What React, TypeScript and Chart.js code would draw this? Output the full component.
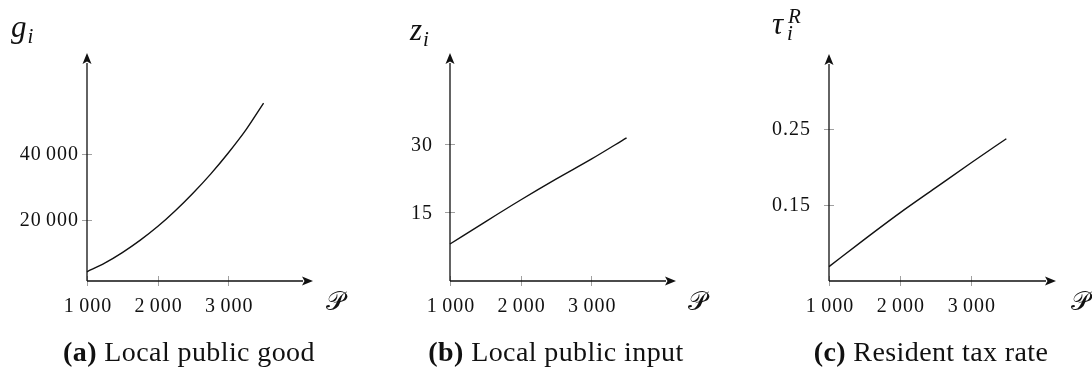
import React, { useEffect, useRef } from "react";
import { Chart, registerables } from "chart.js";

Chart.register(...registerables);

// ---------- data ----------
// panel (a) is curved, so it is read off at more population values
const populationFine = [1000, 1250, 1500, 1750, 2000, 2250, 2500, 2750, 3000, 3250, 3500];
const publicGood = [4300, 6900, 10100, 13800, 18000, 22800, 28100, 33900, 40300, 47300, 55400];
const population = [1000, 1500, 2000, 2500, 3000, 3500];
const publicInput = [8.0, 12.9, 17.7, 22.3, 26.7, 31.4];
const residentTax = [0.068, 0.104, 0.139, 0.172, 0.205, 0.237];

const populationTicks = [1000, 2000, 3000];
const publicGoodTicks = [20000, 40000];
const publicInputTicks = [15, 30];
const residentTaxTicks = [0.15, 0.25];

const captionLetters = ["(a)", "(b)", "(c)"];
const captionTexts = ["Local public good", "Local public input", "Resident tax rate"];

// ---------- layout / style ----------
const PANEL_W = 364;
const PANEL_H = 371;
const SERIF = '"Liberation Serif", "Times New Roman", serif';

type Panel = {
  xs: number[];
  values: number[];
  yTicks: number[];
  yMin: number;
  yMax: number;
  pad: { left: number; right: number; top: number; bottom: number };
  yLabelRight: number;
  yLabel: { main: string; sub: string; sup?: string; x: number; y: number; gap: number };
  pX: number;
  captionX: number;
  fmt: (v: number) => string;
};

const fmtThousands = (v: number) => {
  const s = String(Math.round(v));
  return s.replace(/\B(?=(\d{3})+(?!\d))/g, "\u2006");
};

const panels: Panel[] = [
  {
    xs: populationFine,
    values: publicGood,
    yTicks: publicGoodTicks,
    yMin: 1500,
    yMax: 70600,
    pad: { left: 87, right: 51, top: 53, bottom: 90 },
    yLabelRight: 79,
    yLabel: { main: "g", sub: "i", x: 11, y: 37, gap: 1 },
    pX: 335,
    captionX: 189,
    fmt: fmtThousands,
  },
  {
    xs: population,
    values: publicInput,
    yTicks: publicInputTicks,
    yMin: -0.15,
    yMax: 50.1,
    pad: { left: 86, right: 52, top: 53, bottom: 90 },
    yLabelRight: 69,
    yLabel: { main: "z", sub: "i", x: 46, y: 40, gap: 1 },
    pX: 333,
    captionX: 192,
    fmt: (v) => String(v),
  },
  {
    xs: population,
    values: residentTax,
    yTicks: residentTaxTicks,
    yMin: 0.049,
    yMax: 0.349,
    pad: { left: 101, right: 36, top: 54, bottom: 90 },
    yLabelRight: 83,
    yLabel: { main: "\u03C4", sub: "i", sup: "R", x: 44, y: 34, gap: 4 },
    pX: 352,
    captionX: 203,
    fmt: (v) => v.toFixed(2),
  },
];

function makeAxesPlugin(p: Panel, idx: number) {
  return {
    id: "pgfAxes" + idx,
    afterDraw(chart: any) {
      const ctx: any = chart.ctx;
      const { left, right, top, bottom } = chart.chartArea;
      const xs = chart.scales.x;
      const ys = chart.scales.y;
      ctx.save();

      // tick marks (gray, crossing the axes)
      ctx.strokeStyle = "#a0a0a0";
      ctx.lineWidth = 1;
      populationTicks.forEach((v) => {
        const px = Math.round(xs.getPixelForValue(v)) + 0.5;
        ctx.beginPath();
        ctx.moveTo(px, bottom - 5);
        ctx.lineTo(px, bottom + 5);
        ctx.stroke();
      });
      p.yTicks.forEach((v) => {
        const py = Math.round(ys.getPixelForValue(v)) + 0.5;
        ctx.beginPath();
        ctx.moveTo(left - 5, py);
        ctx.lineTo(left + 5, py);
        ctx.stroke();
      });

      // axes with arrow heads
      const aLen = 11;
      const aHalf = 4.5;
      ctx.strokeStyle = "#111";
      ctx.fillStyle = "#111";
      ctx.lineWidth = 1.3;
      ctx.beginPath();
      ctx.moveTo(left, bottom);
      ctx.lineTo(right - aLen + 1, bottom);
      ctx.moveTo(left, bottom);
      ctx.lineTo(left, top + aLen - 1);
      ctx.stroke();
      ctx.beginPath();
      ctx.moveTo(right, bottom);
      ctx.lineTo(right - aLen, bottom - aHalf);
      ctx.lineTo(right - aLen + 2.5, bottom);
      ctx.lineTo(right - aLen, bottom + aHalf);
      ctx.closePath();
      ctx.fill();
      ctx.beginPath();
      ctx.moveTo(left, top);
      ctx.lineTo(left - aHalf, top + aLen);
      ctx.lineTo(left, top + aLen - 2.5);
      ctx.lineTo(left + aHalf, top + aLen);
      ctx.closePath();
      ctx.fill();

      // tick labels
      ctx.fillStyle = "#111";
      ctx.font = `20px ${SERIF}`;
      ctx.letterSpacing = "1px";
      ctx.textBaseline = "alphabetic";
      ctx.textAlign = "center";
      populationTicks.forEach((v) => {
        ctx.fillText(fmtThousands(v), xs.getPixelForValue(v) + 1, bottom + 31);
      });
      ctx.textAlign = "right";
      p.yTicks.forEach((v) => {
        ctx.fillText(p.fmt(v), p.yLabelRight, ys.getPixelForValue(v) + 6.5);
      });
      ctx.letterSpacing = "0px";

      // y axis label
      ctx.textAlign = "left";
      ctx.font = `italic 31px ${SERIF}`;
      ctx.fillText(p.yLabel.main, p.yLabel.x, p.yLabel.y);
      const mw = ctx.measureText(p.yLabel.main).width;
      ctx.font = `italic 21px ${SERIF}`;
      ctx.fillText(p.yLabel.sub, p.yLabel.x + mw + p.yLabel.gap, p.yLabel.y + 6);
      if (p.yLabel.sup) {
        ctx.fillText(p.yLabel.sup, p.yLabel.x + mw + p.yLabel.gap + 1, p.yLabel.y - 11);
      }

      // x axis label (script P)
      ctx.font = `26px ${SERIF}`;
      ctx.textAlign = "center";
      ctx.fillText("\uD835\uDCAB", p.pX, bottom + 29);

      // caption
      ctx.textAlign = "left";
      ctx.letterSpacing = "0.4px";
      ctx.font = `bold 28px ${SERIF}`;
      const l = captionLetters[idx];
      const lw = ctx.measureText(l + " ").width;
      ctx.font = `28px ${SERIF}`;
      const t = captionTexts[idx];
      const tw = ctx.measureText(t).width;
      const x0 = p.captionX - (lw + tw) / 2;
      ctx.font = `bold 28px ${SERIF}`;
      ctx.fillText(l, x0, 361);
      ctx.font = `28px ${SERIF}`;
      ctx.fillText(t, x0 + lw, 361);
      ctx.letterSpacing = "0px";

      ctx.restore();
    },
  };
}

function PanelChart({ p, idx }: { p: Panel; idx: number }) {
  const ref = useRef<HTMLCanvasElement | null>(null);
  useEffect(() => {
    if (!ref.current) return;
    const chart = new Chart(ref.current, {
      type: "line",
      data: {
        datasets: [
          {
            data: p.xs.map((x, i) => ({ x, y: p.values[i] })),
            borderColor: "#111",
            borderWidth: 1.4,
            pointRadius: 0,
            cubicInterpolationMode: "monotone",
            fill: false,
            clip: false as any,
          },
        ],
      },
      options: {
        animation: false,
        responsive: false,
        maintainAspectRatio: false,
        devicePixelRatio: 1,
        layout: { padding: p.pad },
        plugins: { legend: { display: false }, tooltip: { enabled: false } },
        events: [],
        scales: {
          x: { type: "linear", min: 1000, max: 4200, display: false },
          y: { type: "linear", min: p.yMin, max: p.yMax, display: false },
        },
      },
      plugins: [makeAxesPlugin(p, idx)],
    });
    return () => chart.destroy();
  }, [p, idx]);
  return (
    <canvas
      ref={ref}
      width={PANEL_W}
      height={PANEL_H}
      style={{ position: "absolute", left: idx * PANEL_W, top: 0, width: PANEL_W, height: PANEL_H }}
    />
  );
}

export default function App() {
  return (
    <div
      style={{
        position: "fixed",
        left: 0,
        top: 0,
        width: 1092,
        height: 371,
        background: "#fff",
        overflow: "hidden",
      }}
    >
      {panels.map((p, i) => (
        <PanelChart key={i} p={p} idx={i} />
      ))}
    </div>
  );
}
